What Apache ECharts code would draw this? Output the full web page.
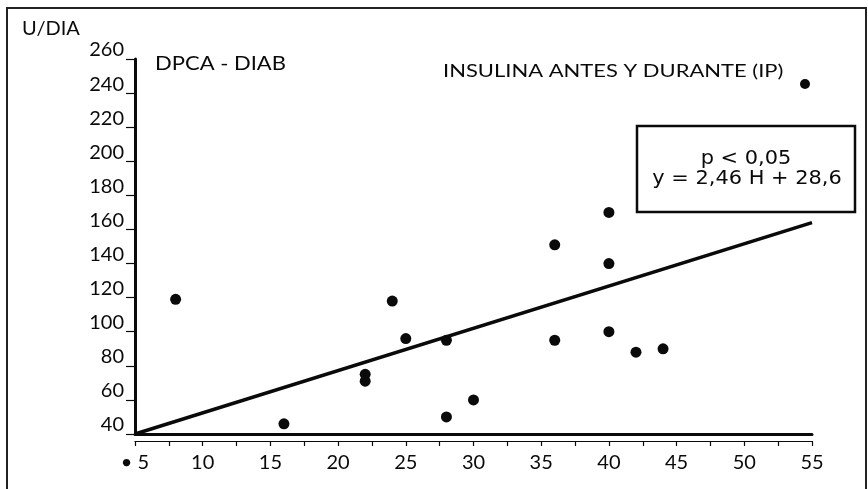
<!DOCTYPE html>
<html>
<head>
<meta charset="utf-8">
<style>
html,body{margin:0;padding:0;background:#fff;}
#chart{width:868px;height:489px;}
</style>
<script src="https://cdn.jsdelivr.net/npm/echarts@6/dist/echarts.min.js"></script>
</head>
<body>
<div id="chart"></div>
<script>
// Data (H vs U/DIA)
const pointsX = [8, 16, 22, 22, 24, 25, 28, 28, 30, 36, 36, 40, 40, 40, 42, 44];
const pointsY = [119, 46, 75, 71, 118, 96, 95, 50, 60, 151, 95, 170, 140, 100, 88, 90];
const regX = [5, 55];
const regY = [40, 164];
const xTicks = [5, 10, 15, 20, 25, 30, 35, 40, 45, 50, 55];
const yTicks = [40, 60, 80, 100, 120, 140, 160, 180, 200, 220, 240, 260];
const yAxisTitle = 'U/DIA';
const groupTitle = 'DPCA - DIAB';
const legendLabel = 'INSULINA ANTES Y DURANTE (IP)';
const statLine1 = 'p < 0,05';
const statLine2 = 'y = 2,46 H + 28,6';

const chart = echarts.init(document.getElementById('chart'));
const FONT = 'Lato';
const INK = '#0a0a0a';
const scatterData = pointsX.map((x, i) => [x, pointsY[i]]);
const lineData = regX.map((x, i) => [x, regY[i]]);

chart.setOption({
  animation: false,
  backgroundColor: '#fff',
  textStyle: {fontFamily: FONT, color: INK},
  grid: {left: 135, right: 56, top: 59, bottom: 55, containLabel: false},
  graphic: [
    {type: 'rect', shape: {x: 7, y: 8, width: 859, height: 490}, style: {fill: 'none', stroke: '#222', lineWidth: 2}},
    {type: 'text', x: 22, y: 19, style: {text: yAxisTitle, font: '20px Lato', fill: INK, verticalAlign: 'top'}},
    {type: 'text', x: 155, y: 54, scaleX: 1.1, style: {text: groupTitle, font: '20px Lato', fill: INK, verticalAlign: 'top'}},
    {type: 'text', x: 443, y: 62, scaleX: 1.22, style: {text: legendLabel, font: '18px Lato', fill: INK, verticalAlign: 'top'}},
    {type: 'circle', shape: {cx: 805, cy: 84, r: 5}, style: {fill: INK}},
    {type: 'rect', shape: {x: 637, y: 126, width: 218, height: 86}, style: {fill: '#fff', stroke: INK, lineWidth: 2.5}},
    {type: 'text', x: 746, y: 159, scaleX: 1.1, style: {text: statLine1, font: '19px "DejaVu Sans"', fill: INK, align: 'center', verticalAlign: 'middle'}},
    {type: 'text', x: 747, y: 179, scaleX: 1.1, style: {text: statLine2, font: '19px "DejaVu Sans"', fill: INK, align: 'center', verticalAlign: 'middle'}}
  ],
  xAxis: [
    {
      type: 'value', min: 5, max: 55, interval: 5,
      axisLine: {show: true, lineStyle: {color: INK, width: 3}},
      axisTick: {show: false},
      splitLine: {show: false},
      axisLabel: {margin: 19, fontSize: 20, fontFamily: FONT, color: INK,
        formatter: v => (v === 5 ? '• 5' : String(v))}
    },
    {
      type: 'value', min: 5, max: 55, interval: 2.5, position: 'bottom', offset: 7,
      axisLine: {show: true, lineStyle: {color: INK, width: 1.2}},
      axisTick: {show: true, length: 5, lineStyle: {color: INK, width: 1.2}},
      splitLine: {show: false},
      axisLabel: {show: false}
    }
  ],
  yAxis: {
    type: 'value', min: 40, max: 260, interval: 20,
    axisLine: {show: true, lineStyle: {color: INK, width: 3}},
    axisTick: {show: true, length: 9, lineStyle: {color: INK, width: 1.2}},
    splitLine: {show: false},
    axisLabel: {margin: 11, fontSize: 20, fontFamily: FONT, color: INK, verticalAlign: 'bottom', lineHeight: 18}
  },
  series: [
    {type: 'line', data: lineData, symbol: 'none', lineStyle: {color: INK, width: 3.5}, z: 3},
    {type: 'scatter', data: scatterData, symbol: 'circle', symbolSize: 11, itemStyle: {color: INK, opacity: 1}, z: 4}
  ]
});
</script>
</body>
</html>
